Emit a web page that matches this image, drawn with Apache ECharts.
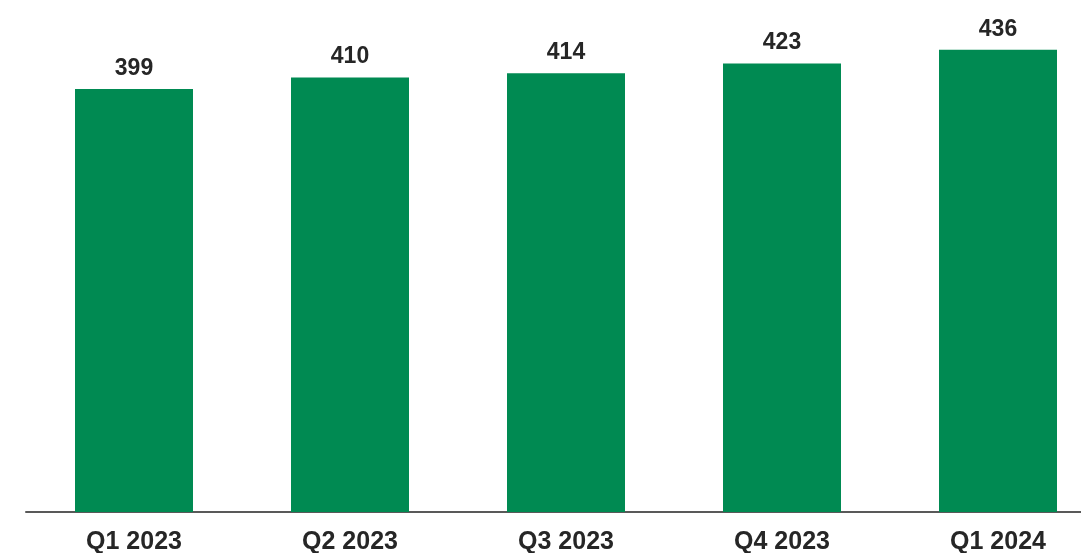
<!DOCTYPE html>
<html>
<head>
<meta charset="utf-8">
<script src="https://cdn.jsdelivr.net/npm/echarts@6/dist/echarts.min.js"></script>
<style>
  html, body { margin: 0; padding: 0; background: #fff; }
  #chart { width: 1081px; height: 553px; }
</style>
</head>
<body>
<div id="chart"></div>
<script>
  var quarters = ['Q1 2023', 'Q2 2023', 'Q3 2023', 'Q4 2023', 'Q1 2024'];
  var values = [399, 410, 414, 423, 436];

  var chart = echarts.init(document.getElementById('chart'));
  chart.setOption({
    animation: false,
    grid: { left: 26, width: 1080, top: 35, bottom: 41, outerBoundsMode: 'none' },
    xAxis: {
      type: 'category',
      data: quarters,
      axisLine: { lineStyle: { color: '#595959', width: 2 } },
      axisTick: { show: false },
      axisLabel: {
        color: '#262626',
        fontFamily: 'Liberation Sans, Arial, sans-serif',
        fontWeight: 'bold',
        fontSize: 25,
        margin: 18
      }
    },
    yAxis: {
      type: 'value',
      min: 0,
      max: 450,
      show: false
    },
    series: [{
      type: 'bar',
      data: values,
      barWidth: 118,
      itemStyle: { color: '#008A52' },
      label: {
        show: true,
        position: 'top',
        distance: 9,
        color: '#262626',
        fontFamily: 'Liberation Sans, Arial, sans-serif',
        fontWeight: 'bold',
        fontSize: 23
      }
    }]
  });
</script>
</body>
</html>
